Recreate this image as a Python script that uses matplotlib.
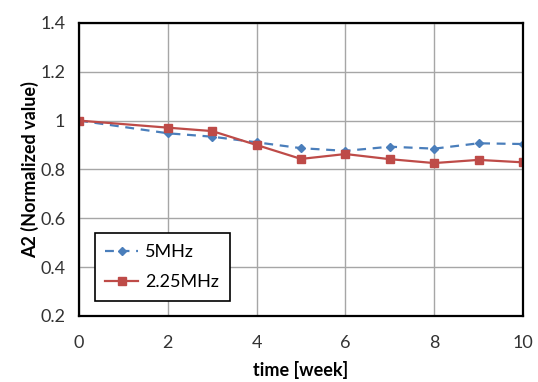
import matplotlib.pyplot as plt

weeks = [0, 2, 3, 4, 5, 6, 7, 8, 9, 10]
a2_5mhz = [1.0, 0.948, 0.934, 0.911, 0.887, 0.876, 0.893, 0.885, 0.907, 0.904]
a2_225mhz = [1.0, 0.971, 0.957, 0.900, 0.843, 0.863, 0.842, 0.826, 0.839, 0.829]

plt.rcParams['font.family'] = ['Lato', 'DejaVu Sans']

fig = plt.figure(figsize=(5.38, 3.82), dpi=100)
ax = fig.add_axes([0.147, 0.173, 0.825, 0.767])

ax.plot(weeks, a2_5mhz, color='#4a7ebb', linestyle='--', linewidth=1.6,
        marker='D', markersize=4.5, label='5MHz', dashes=(4, 3))
ax.plot(weeks, a2_225mhz, color='#be4b48', linestyle='-', linewidth=1.6,
        marker='s', markersize=6, label='2.25MHz')

ax.set_xlim(0, 10)
ax.set_ylim(0.2, 1.4)
ax.set_xticks([0, 2, 4, 6, 8, 10])
ax.set_yticks([0.2, 0.4, 0.6, 0.8, 1.0, 1.2, 1.4])
ax.set_yticklabels(['0.2', '0.4', '0.6', '0.8', '1', '1.2', '1.4'])
ax.grid(True, color='#a6a6a6', linewidth=1)
ax.set_axisbelow(True)
for s in ax.spines.values():
    s.set_linewidth(1.6)
    s.set_color('black')
ax.tick_params(length=0, labelsize=13, colors='#333333')
ax.tick_params(axis='x', pad=14)
ax.tick_params(axis='y', pad=10)

ax.set_xlabel('time [week]', fontsize=13, fontweight='bold', labelpad=7)
ax.set_ylabel('A2 (Normalized value)', fontsize=13, fontweight='bold', labelpad=1)

leg = ax.legend(loc='lower left', bbox_to_anchor=(0.035, 0.05), fontsize=13,
                fancybox=False, edgecolor='black', framealpha=1,
                handlelength=1.8, handletextpad=0.4, borderpad=0.6,
                labelspacing=0.8, borderaxespad=0)
leg.get_frame().set_linewidth(1.2)

fig.savefig('out.png', dpi=100)
